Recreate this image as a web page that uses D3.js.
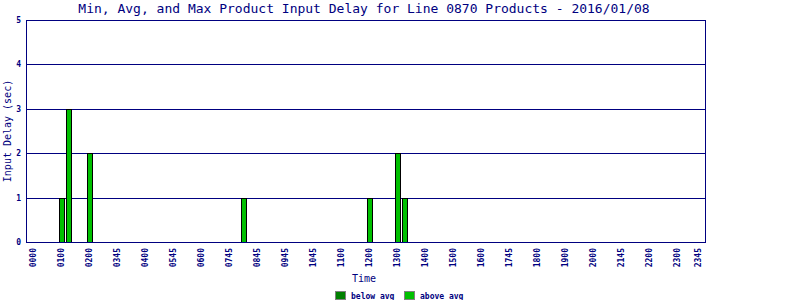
<!DOCTYPE html>
<html>
<head>
<meta charset="utf-8">
<script src="https://cdn.jsdelivr.net/npm/d3@7"></script>
<style>
  body { margin: 0; background: #fff; }
  text { font-family: "DejaVu Sans Mono", "Liberation Mono", monospace; fill: #000080; }
</style>
</head>
<body>
<svg width="800" height="300"></svg>
<script>
// x axis labels, one per hour slot (as printed on the original chart)
var tickLabels = ["0000","0100","0200","0345","0400","0545","0600","0745","0845","0945","1045","1100",
                  "1200","1300","1400","1500","1600","1745","1800","1900","2000","2145","2200","2300","2345"];
// 15 minute slot index where each label sits
var tickSlots = [0,4,8,12,16,20,24,28,32,36,40,44,48,52,56,60,64,68,72,76,80,84,88,92,95];

// bars: slot time and delay (sec)
var barTimes = ["0100","0115","0200","0730","1200","1300","1315"];
var barValues = [1, 3, 2, 1, 1, 2, 1];
var barAboveAvg = [true, true, true, true, true, true, true];

var yTicks = [0,1,2,3,4,5];
var legendItems = [{ name: "below avg", color: "#008000" }, { name: "above avg", color: "#00c000" }];

var svg = d3.select("svg");
// plot box (note: "top" is taken by window.top, so use plot_* names)
var plot_left = 26, plot_right = 705, plot_top = 20, plot_bottom = 242;

function slotOf(t) {
    return +t.substr(0, 2) * 4 + (+t.substr(2, 2)) / 15;
}

var x = d3.scaleLinear().domain([-1.15, 95.85]).range([plot_left, plot_right]);
var y = d3.scaleLinear().domain([0, 5]).range([plot_bottom, plot_top]);

// title
svg.append("text")
    .attr("x", 364).attr("y", 13)
    .attr("text-anchor", "middle")
    .style("font-size", "13px")
    .text("Min, Avg, and Max Product Input Delay for Line 0870 Products - 2016/01/08");

// gridlines
svg.append("g").selectAll("line")
    .data(yTicks.slice(1, -1))
    .enter().append("line")
    .attr("x1", plot_left).attr("x2", plot_right)
    .attr("y1", d => Math.round(y(d)) + 0.5)
    .attr("y2", d => Math.round(y(d)) + 0.5)
    .attr("stroke", "#000080");

// bars
var bars = barTimes.map((t, i) => ({ slot: slotOf(t), value: barValues[i], above: barAboveAvg[i] }));
svg.append("g").selectAll("rect")
    .data(bars)
    .enter().append("rect")
    .attr("x", d => Math.round(x(d.slot)) - 2.5)
    .attr("y", d => Math.round(y(d.value)) + 0.5)
    .attr("width", 5)
    .attr("height", d => Math.round(y(0)) - Math.round(y(d.value)))
    .attr("fill", d => d.above ? legendItems[1].color : legendItems[0].color)
    .attr("stroke", "#000");

// frame
svg.append("rect")
    .attr("x", plot_left + 0.5).attr("y", plot_top + 0.5)
    .attr("width", plot_right - plot_left).attr("height", plot_bottom - plot_top)
    .attr("fill", "none").attr("stroke", "#000080");

// y tick labels
svg.append("g").selectAll("text")
    .data(yTicks)
    .enter().append("text")
    .attr("x", 21).attr("y", d => y(d) + 3)
    .attr("text-anchor", "end")
    .style("font-size", "8px").style("font-weight", "bold")
    .text(d => d);

// x tick labels (rotated)
svg.append("g").selectAll("text")
    .data(tickSlots)
    .enter().append("text")
    .attr("transform", d => "translate(" + (x(d) + 2) + ",248) rotate(-90)")
    .attr("text-anchor", "end")
    .style("font-size", "8px").style("font-weight", "bold")
    .text((d, i) => tickLabels[i]);

// axis titles
svg.append("text")
    .attr("transform", "translate(11," + ((plot_top + plot_bottom) / 2) + ") rotate(-90)")
    .attr("text-anchor", "middle")
    .style("font-size", "10px")
    .text("Input Delay (sec)");

svg.append("text")
    .attr("x", 364).attr("y", 282)
    .attr("text-anchor", "middle")
    .style("font-size", "10px")
    .text("Time");

// legend
var lg = svg.append("g").selectAll("g")
    .data(legendItems)
    .enter().append("g")
    .attr("transform", (d, i) => "translate(" + (335 + i * 69) + ",291)");
lg.append("rect")
    .attr("x", 0.5).attr("y", 0.5)
    .attr("width", 10).attr("height", 8)
    .attr("fill", d => d.color)
    .attr("stroke", "#808080");
lg.append("text")
    .attr("x", 16).attr("y", 8)
    .style("font-size", "8px").style("font-weight", "bold")
    .text(d => d.name);
</script>
</body>
</html>
